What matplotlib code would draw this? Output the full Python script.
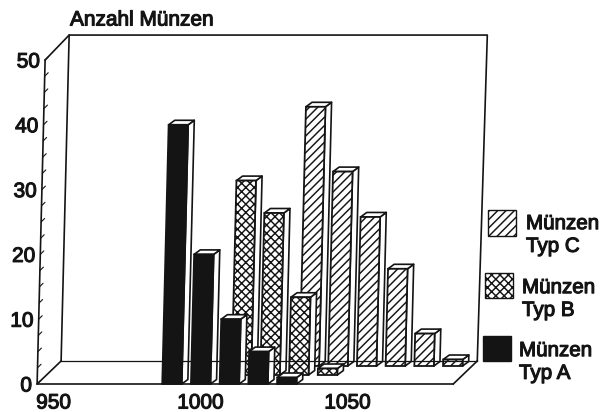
import matplotlib
matplotlib.use("Agg")
import matplotlib.pyplot as plt
import matplotlib.patheffects as pe
from matplotlib.patches import Polygon, Rectangle
from matplotlib.transforms import Affine2D

# --- data -------------------------------------------------------------
years_a = [990, 1000, 1010, 1020, 1030]
coins_a = [40, 20, 10, 5, 1]
years_b = [1010, 1020, 1030, 1040]
coins_b = [30, 25, 12, 1]
years_c = [1030, 1040, 1050, 1060, 1070, 1080]
coins_c = [40, 30, 23, 15, 5, 1]
y_ticks = [0, 10, 20, 30, 40, 50]
x_ticks = [950, 1000, 1050]
y_title = "Anzahl Münzen"
legend_labels = ["Münzen\nTyp C", "Münzen\nTyp B", "Münzen\nTyp A"]

INK = "#141414"
FONT = "Liberation Sans"
plt.rcParams["font.family"] = FONT
plt.rcParams["hatch.linewidth"] = 1.05

fig = plt.figure(figsize=(6.01, 4.12), dpi=100)
ax = fig.add_axes([0, 0, 1, 1])
ax.set_xlim(0, 601)
ax.set_ylim(412, 0)
ax.axis("off")

PX_YEAR, PX_VALUE, SHEAR = 2.87, 6.48, 0.16
X950, BASE = 57.2, 384


def plane(dx=0.0, dy=0.0, px_year=PX_YEAR):
    """(year, value) on a depth plane -> figure pixels."""
    return Affine2D.from_values(px_year, 0, SHEAR, -PX_VALUE,
                                X950 - 950 * px_year + dx, BASE + dy) + ax.transData


front = plane()
back = plane(24, -23)
YMIN, YMAX = 943, 1088
TOP = 50.3

# walls and floor
lw = dict(color=INK, lw=1.2, solid_capstyle="round")
ax.plot([YMIN, YMIN, YMAX], [50, 0, 0], transform=front, **lw)
ax.plot([YMIN, YMIN, YMAX + 0.7, YMAX], [0, TOP, TOP, 0], transform=back, **lw)
ax.plot([YMIN, YMAX], [0, 0], transform=back, color=INK, lw=0.9)
for y, v in [(YMIN, 0), (YMIN, 50), (YMAX, 0)]:
    p0 = front.transform((y, v))
    p1 = back.transform((y, v if v == 0 else TOP))
    fig.add_artist(plt.Line2D([p0[0], p1[0]], [p0[1], p1[1]], transform=None,
                              color=INK, lw=1.2))

# value axis ticks and labels
for i in range(21):
    v = i * 2.5
    ax.annotate("", xy=front.transform((YMIN, v)) + (3.5, 3.5), xycoords="figure pixels",
                xytext=front.transform((YMIN, v)), textcoords="figure pixels",
                arrowprops=dict(arrowstyle="-", color=INK, lw=0.8, shrinkA=0, shrinkB=0))

stroke = [pe.withStroke(linewidth=0.8, foreground=INK)]
for v in y_ticks:
    ax.text(YMIN, v, str(v), transform=front + Affine2D().translate(-5, -2),
            ha="right", va="center", fontsize=15, color=INK, path_effects=stroke)
tick_plane = plane(px_year=2.94)
for y in x_ticks:
    ax.text(y, 0, str(y), transform=tick_plane + Affine2D().translate(-3.5, -19),
            ha="center", va="center", fontsize=15, color=INK, path_effects=stroke)
ax.text(70, 20, y_title, ha="left", va="center", fontsize=15, color=INK, path_effects=stroke)


# bars
def bars(years, values, tr, face, hatch):
    half, dy_y, dv = 3.4, 6.0 / PX_YEAR, 4.5 / PX_VALUE
    for y, v in zip(years, values):
        y0, y1 = y - half, y + half
        top = [(y0, v), (y1, v), (y1 + dy_y, v + dv), (y0 + dy_y, v + dv)]
        side = [(y1, 0), (y1, v), (y1 + dy_y, v + dv), (y1 + dy_y, dv)]
        for pts in (side, top):
            ax.add_patch(Polygon(pts, closed=True, transform=tr, fc="white",
                                 ec=INK, lw=1.2, joinstyle="round"))
        ax.add_patch(Rectangle((y0, 0), 2 * half, v, transform=tr, fc=face,
                               ec=INK, lw=1.3, hatch=hatch))


bars(years_c, coins_c, plane(22.5, -18), "white", "////")
bars(years_b, coins_b, plane(12, -9), "white", "xxxx")
bars(years_a, coins_a, plane(0, 0), INK, None)

# legend
entries = [((488, 210, 28, 26), "white", "////", (526, 235)),
           ((485, 273, 28, 25), "white", "xxxx", (522, 299)),
           ((483, 336, 28, 25), INK, None, (519, 362))]
for ((x, y, w, h), fc, hatch, (tx, ty)), label in zip(entries, legend_labels):
    ax.add_patch(Rectangle((x, y), w, h, fc=fc, ec=INK, lw=1.0, hatch=hatch))
    ax.text(tx, ty, label, ha="left", va="center", fontsize=14.8, color=INK,
            linespacing=1.25, path_effects=stroke)

fig.savefig("out.png", dpi=100, facecolor="white")
